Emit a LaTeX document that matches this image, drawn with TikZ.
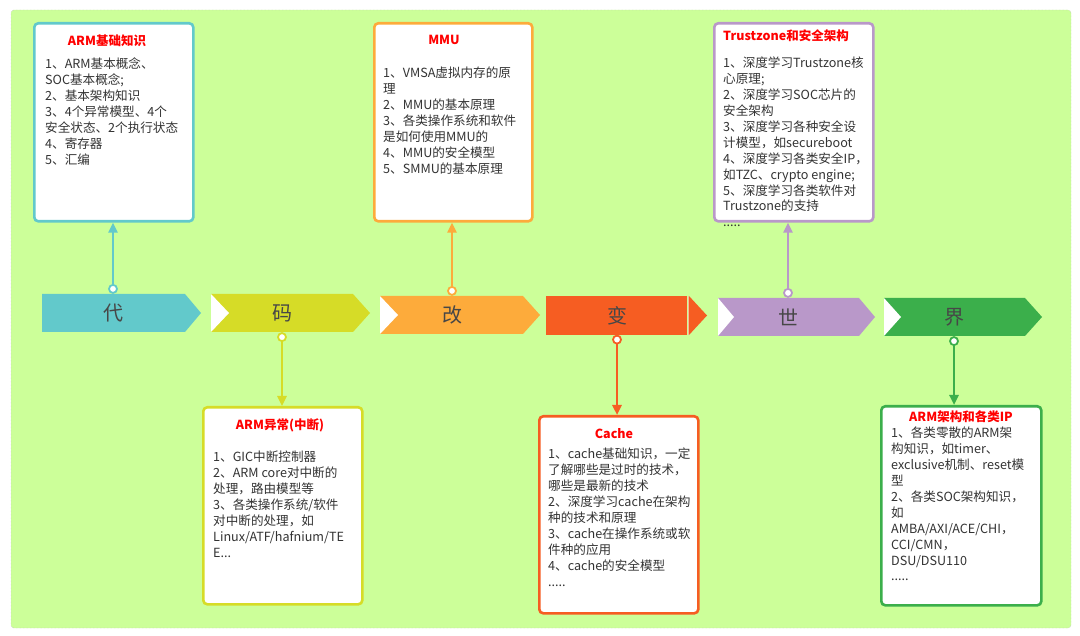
\documentclass[tikz,border=0pt]{standalone}
\usepackage{fontspec}
\newfontfamily\cjk{Noto Sans CJK SC}
\usetikzlibrary{arrows.meta, positioning}
\definecolor{pagegreen}{RGB}{204,255,153}
\definecolor{daicyan}{RGB}{98,201,203}
\definecolor{mayellow}{RGB}{214,220,39}
\definecolor{gaiorange}{RGB}{253,171,59}
\definecolor{bianred}{RGB}{246,93,34}
\definecolor{shipurple}{RGB}{185,152,201}
\definecolor{jiegreen}{RGB}{59,175,75}
\definecolor{textgray}{RGB}{51,51,51}

\tikzset{
  infobox/.style={draw=#1, line width=2.6pt, rounded corners=4pt, fill=white, anchor=north west, inner sep=0pt},
  boxtitle/.style={font=\cjk\fontsize{12.5}{15}\selectfont\bfseries, text=red, inner sep=0pt},
  boxtext/.style={font=\cjk\fontsize{12.6}{15.9}\selectfont, text=textgray, align=left, anchor=north west, inner sep=0pt},
  steplabel/.style={font=\cjk\fontsize{20}{20}\selectfont, text=textgray!90, minimum height=38pt, inner sep=0pt},
  pin/.style={circle, draw=#1, fill=white, line width=1.8pt, minimum size=8pt, inner sep=0pt},
  link/.style={draw=#1, line width=2.4pt, -{Triangle[width=9pt,length=10pt]}},
}

\begin{document}
\begin{tikzpicture}[x=1pt, y=-1pt]
    \useasboundingbox (0,0) rectangle (1080,636);
    \draw[gray!60, densely dotted, fill=pagegreen, rounded corners=3pt] (11,10) rectangle (1071,628);

    % timeline
    \fill[daicyan] (42,294) -- (185,294) -- (201,313) -- (185,332) -- (42,332) -- cycle;
    \fill[mayellow] (211,294) -- (353,294) -- (370,313) -- (353,332) -- (211,332) -- cycle;
    \fill[white] (211,294) -- (229,313) -- (211,332) -- cycle;
    \fill[gaiorange] (380,296) -- (523,296) -- (540,315) -- (523,334) -- (380,334) -- cycle;
    \fill[white] (380,296) -- (398,315) -- (380,334) -- cycle;
    \fill[bianred] (546,296) rectangle (687,335);
    \fill[bianred] (689,296) -- (707,315.5) -- (689,335) -- cycle;
    \draw[bianred!45, line width=1pt] (688,296) -- (688,335);
    \fill[shipurple] (718,298) -- (859,298) -- (875,317) -- (859,336) -- (718,336) -- cycle;
    \fill[white] (718,298) -- (734,317) -- (718,336) -- cycle;
    \fill[jiegreen] (884,298) -- (1025,298) -- (1042,317) -- (1025,336) -- (884,336) -- cycle;
    \fill[white] (884,298) -- (901,317) -- (884,336) -- cycle;

    \node[steplabel] (dai) at (113,313) {代};
    \node[steplabel] (ma) at (282,313) {码};
    \node[steplabel] (gai) at (452,315) {改};
    \node[steplabel] (bian) at (617,315.5) {变};
    \node[steplabel] (shi) at (788,317) {世};
    \node[steplabel] (jie) at (954,317) {界};

    % boxes
    \node[infobox=daicyan, minimum width=159pt, minimum height=198pt] (basic) at (33,22) {};
    \node[infobox=gaiorange, minimum width=158pt, minimum height=198pt] (mmu) at (373,22) {};
    \node[infobox=shipurple, minimum width=159pt, minimum height=198pt] (tz) at (713,22) {};
    \node[infobox=mayellow, minimum width=159pt, minimum height=197pt] (exc) at (202,406) {};
    \node[infobox=bianred, minimum width=159pt, minimum height=197pt] (cache) at (538,415) {};
    \node[infobox=jiegreen, minimum width=160pt, minimum height=199pt] (arch) at (880,405) {};

    \node[boxtitle] (basic-t) at (107,41) {ARM基础知识};
    \node[boxtitle] (mmu-t) at (444,40) {MMU};
    \node[boxtitle] (tz-t) at (786,36) {Trustzone和安全架构};
    \node[boxtitle] (exc-t) at (280,425) {ARM异常(中断)};
    \node[boxtitle] (cache-t) at (614,434) {Cache};
    \node[boxtitle] (arch-t) at (961,417) {ARM架构和各类IP};

    \node[boxtext] (basic-x) at (45,58) {1、ARM基本概念、\\SOC基本概念;\\2、基本架构知识\\3、4个异常模型、4个\\安全状态、2个执行状态\\4、寄存器\\5、汇编};
    \node[boxtext] (mmu-x) at (383,67) {1、VMSA虚拟内存的原\\理\\2、MMU的基本原理\\3、各类操作系统和软件\\是如何使用MMU的\\4、MMU的安全模型\\5、SMMU的基本原理};
    \node[boxtext] (tz-x) at (723,57) {1、深度学习Trustzone核\\心原理;\\2、深度学习SOC芯片的\\安全架构\\3、深度学习各种安全设\\计模型，如secureboot\\4、深度学习各类安全IP，\\如TZC、crypto engine;\\5、深度学习各类软件对\\Trustzone的支持\\.....};
    \node[boxtext] (exc-x) at (213,451) {1、GIC中断控制器\\2、ARM core对中断的\\处理，路由模型等\\3、各类操作系统/软件\\对中断的处理，如\\Linux/ATF/hafnium/TE\\E...};
    \node[boxtext] (cache-x) at (548,448) {1、cache基础知识，一定\\了解哪些是过时的技术，\\哪些是最新的技术\\2、深度学习cache在架构\\种的技术和原理\\3、cache在操作系统或软\\件种的应用\\4、cache的安全模型\\.....};
    \node[boxtext] (arch-x) at (891,427) {1、各类零散的ARM架\\构知识，如timer、\\exclusive机制、reset模\\型\\2、各类SOC架构知识，\\如\\AMBA/AXI/ACE/CHI，\\CCI/CMN，\\DSU/DSU110\\.....};

    % pins and links
    \node[pin=daicyan, above=0pt of dai] (dai-pin) {};
    \node[pin=mayellow, below=0pt of ma] (ma-pin) {};
    \node[pin=gaiorange, above=0pt of gai] (gai-pin) {};
    \node[pin=bianred, below=0pt of bian] (bian-pin) {};
    \node[pin=shipurple, above=0pt of shi] (shi-pin) {};
    \node[pin=jiegreen, below=0pt of jie] (jie-pin) {};
    \draw[link=daicyan] (dai-pin) -- (dai-pin |- basic.south);
    \draw[link=mayellow] (ma-pin) -- (ma-pin |- exc.north);
    \draw[link=gaiorange] (gai-pin) -- (gai-pin |- mmu.south);
    \draw[link=bianred] (bian-pin) -- (bian-pin |- cache.north);
    \draw[link=shipurple] (shi-pin) -- (shi-pin |- tz.south);
    \draw[link=jiegreen] (jie-pin) -- (jie-pin |- arch.north);
\end{tikzpicture}
\end{document}
